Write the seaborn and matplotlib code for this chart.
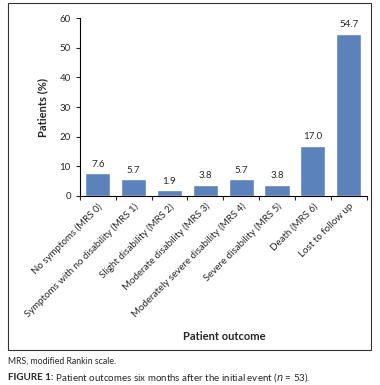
import seaborn as sns
import matplotlib.pyplot as plt
import matplotlib.patches as mpatches
import numpy as np
import pandas as pd

sns.set_style('white')
plt.rcParams['font.family'] = ['Lato', 'DejaVu Sans']

outcomes = ['No symptoms (MRS 0)', 'Symptoms with no disability (MRS 1)',
            'Slight disability (MRS 2)', 'Moderate disability (MRS 3)',
            'Moderately severe disability (MRS 4)', 'Severe disability (MRS 5)',
            'Death (MRS 6)', 'Lost to follow up']
percent = [7.6, 5.7, 1.9, 3.8, 5.7, 3.8, 17.0, 54.7]

df = pd.DataFrame({'outcome': outcomes, 'percent': percent})

fig = plt.figure(figsize=(3.8, 3.85), dpi=100)
ax = fig.add_axes([0.21, 0.491, 0.755, 0.462])

sns.barplot(data=df, x='outcome', y='percent', color='#5b82bb', width=0.7,
            saturation=1, ax=ax)

for i, v in enumerate(percent):
    ax.text(i, v + 1.5, f'{v:.1f}', ha='center', va='bottom', fontsize=7)

ax.set_ylim(0, 60)
ax.set_xlim(-0.5, len(outcomes) - 0.5)
ax.set_yticks(range(0, 61, 10))
ax.tick_params(axis='y', labelsize=7, length=3, direction='out', left=True, width=0.8)
ax.set_xticks(np.arange(len(outcomes)))
ax.set_xticklabels(outcomes, rotation=45, ha='right', rotation_mode='anchor', fontsize=7)
ax.tick_params(axis='x', length=0, pad=4)
ax.set_xticks(np.arange(len(outcomes) + 1) - 0.5, minor=True)
ax.tick_params(axis='x', which='minor', length=3, direction='out', bottom=True, width=0.8)
for s in ['top', 'right']:
    ax.spines[s].set_visible(False)
for s in ['left', 'bottom']:
    ax.spines[s].set_color('black')
    ax.spines[s].set_linewidth(0.8)

ax.set_ylabel('Patients (%)', fontsize=8, fontweight='bold', labelpad=8)
ax.set_xlabel('')
fig.text(0.59, 0.125, 'Patient outcome', ha='center', va='center',
         fontsize=8, fontweight='bold')

fig.patches.append(mpatches.Rectangle((0.021, 0.09), 0.955, 0.902, transform=fig.transFigure,
                                      fill=False, edgecolor='#333333', linewidth=0.8))

fig.text(0.021, 0.063, 'MRS, modified Rankin scale.', fontsize=6.3, va='center')
t1 = fig.text(0.021, 0.02, 'FIGURE 1:', fontsize=7, va='center', fontweight='bold')
fig.text(0, 0, ' Patient outcomes six months after the initial event ($n$ = 53).',
         fontsize=7, va='center', ha='left',
         transform=t1.get_transform())
fig.canvas.draw()
bb = t1.get_window_extent().transformed(fig.transFigure.inverted())
fig.texts[-1].set_position((bb.x1, 0.02))

fig.savefig('out.png', dpi=100)
